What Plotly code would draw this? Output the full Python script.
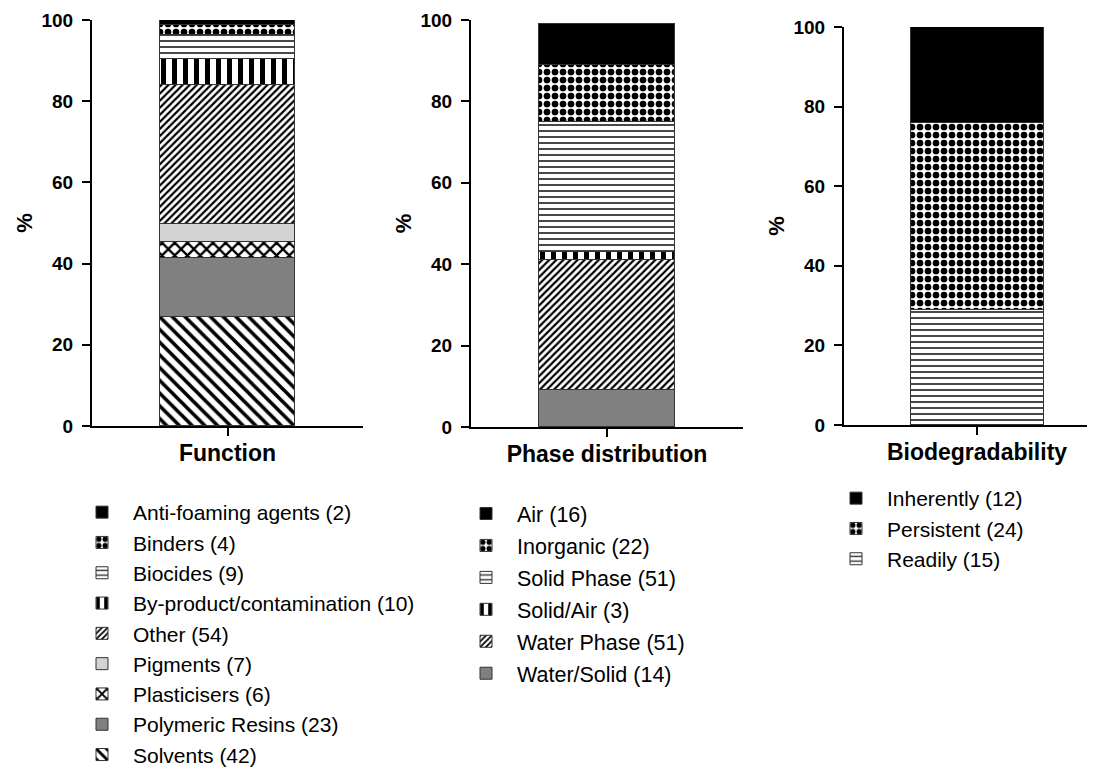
import plotly.graph_objects as go

# ---------------- data (percent of substances) ----------------
function_labels = ["Anti-foaming agents (2)", "Binders (4)", "Biocides (9)",
                   "By-product/contamination (10)", "Other (54)", "Pigments (7)",
                   "Plasticisers (6)", "Polymeric Resins (23)", "Solvents (42)"]
function_pct = [1.3, 2.5, 5.7, 6.4, 34.4, 4.5, 3.8, 14.6, 26.8]

phase_labels = ["Air (16)", "Inorganic (22)", "Solid Phase (51)", "Solid/Air (3)",
                "Water Phase (51)", "Water/Solid (14)"]
phase_pct = [10, 14, 32, 2, 32, 9]

bio_labels = ["Inherently (12)", "Persistent (24)", "Readily (15)"]
bio_pct = [24, 47, 29]

panel_names = ["Function", "Phase distribution", "Biodegradability"]
y_ticks = [0, 20, 40, 60, 80, 100]

# ---------------- fill styles ----------------
def pat(shape, size, solidity, fg="black"):
    return dict(shape=shape, fgcolor=fg, bgcolor="white", size=size,
                solidity=solidity, fgopacity=1, fillmode="replace")

SOLID_BLACK = dict(color="black", pattern=None)
CHECK = dict(color="white", pattern=pat(".", 8, 0.55))
HLINES = dict(color="white", pattern=pat("-", 6, 0.3, "#333333"))
VBARS = dict(color="white", pattern=pat("|", 11, 0.45))
FINE_DIAG = dict(color="white", pattern=pat("/", 5, 0.45))
LIGHT_GREY = dict(color="#d3d3d3", pattern=None)
CROSS = dict(color="white", pattern=pat("x", 9, 0.45))
MID_GREY = dict(color="#808080", pattern=None)
BACK_DIAG = dict(color="white", pattern=pat("\\", 9, 0.4))

function_styles = [SOLID_BLACK, CHECK, HLINES, VBARS, FINE_DIAG, LIGHT_GREY, CROSS, MID_GREY, BACK_DIAG]
phase_styles = [SOLID_BLACK, CHECK, HLINES, VBARS, FINE_DIAG, MID_GREY]
bio_styles = [SOLID_BLACK, CHECK, HLINES]

fig = go.Figure()

groups = [
    (function_labels, function_pct, function_styles, "x", "y", "legend", panel_names[0]),
    (phase_labels, phase_pct, phase_styles, "x2", "y2", "legend2", panel_names[1]),
    (bio_labels, bio_pct, bio_styles, "x3", "y3", "legend3", panel_names[2]),
]

for labels, vals, styles, xa, ya, lg, cat in groups:
    items = list(enumerate(zip(labels, vals, styles)))
    # add bottom segment first so the stack builds upward
    for rank, (lab, v, st) in reversed(items):
        marker = dict(color=st["color"], line=dict(color="#333333", width=1))
        if st["pattern"] is not None:
            marker["pattern"] = st["pattern"]
        fig.add_trace(go.Bar(
            x=[cat], y=[v], name=lab, width=0.5,
            marker=marker, xaxis=xa, yaxis=ya, legend=lg,
            legendgroup=lab, legendrank=rank + 1, hoverinfo="name+y",
        ))

# page body has an 8px margin: the figure is offset by (8, 8) in the window
OFF = 8
W, H = 1095 - OFF, 771 - OFF

def xd(a, b):
    return [max(0, (a - OFF) / W), min(1, (b - OFF) / W)]

def yd(top, bottom):
    return [1 - (bottom - OFF) / H, 1 - (top - OFF) / H]

def px(x):
    return (x - OFF) / W

def py(y):
    return 1 - (y - OFF) / H

FONT = "Arial, Liberation Sans, sans-serif"
tick_font = dict(family=FONT, size=19, color="black", weight=700)
xlab_font = dict(family=FONT, size=23, color="black", weight=700)
title_font = dict(family=FONT, size=22, color="black", weight=700)
leg_font1 = dict(family=FONT, size=21, color="black")
leg_font2 = dict(family=FONT, size=21.5, color="black")
leg_font3 = dict(family=FONT, size=21, color="black")

common_x = dict(showline=True, linecolor="black", linewidth=2, ticks="outside", ticklen=8,
                tickwidth=2, tickcolor="black", showgrid=False, zeroline=False,
                tickfont=xlab_font, fixedrange=True, automargin=False,
                ticklabelstandoff=-3)
common_y = dict(showline=True, linecolor="black", linewidth=2, ticks="outside", ticklen=8,
                tickwidth=2, tickcolor="black", showgrid=False, zeroline=False,
                range=[0, 100], tickvals=y_ticks, tickfont=tick_font,
                title=dict(text="%", font=title_font, standoff=3), fixedrange=True,
                automargin=False, ticklabelstandoff=5)

leg_common = dict(xanchor="left", yanchor="top", traceorder="grouped",
                  itemwidth=52, bgcolor="rgba(0,0,0,0)")

fig.update_layout(
    width=W, height=H,
    margin=dict(l=0, r=0, t=0, b=0, autoexpand=False),
    paper_bgcolor="white", plot_bgcolor="white",
    barmode="stack", bargap=0,
    xaxis=dict(domain=xd(92, 363), anchor="y", range=[-0.5, 0.5], **common_x),
    yaxis=dict(domain=yd(20, 426), anchor="x", **common_y),
    xaxis2=dict(domain=xd(471, 743), anchor="y2", range=[-0.5, 0.5], **common_x),
    yaxis2=dict(domain=yd(20, 427), anchor="x2", **common_y),
    xaxis3=dict(domain=xd(844, 1095), anchor="y3", range=[-0.5, 0.4436], **common_x),
    yaxis3=dict(domain=yd(27, 425), anchor="x3", **common_y),
    legend=dict(x=px(71), y=py(492), tracegroupgap=0, font=leg_font1, **leg_common),
    legend2=dict(x=px(455), y=py(493), tracegroupgap=1, font=leg_font2, **leg_common),
    legend3=dict(x=px(825), y=py(478), tracegroupgap=0, font=leg_font3, **leg_common),
)

fig.write_html("out.html")
